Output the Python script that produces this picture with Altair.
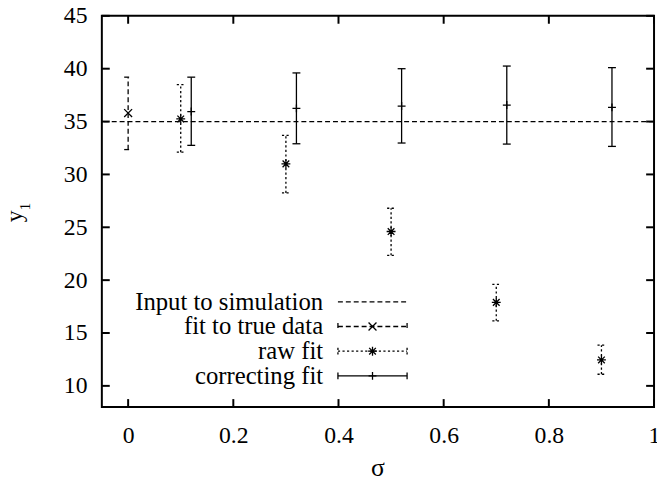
import altair as alt
import pandas as pd

# ---------------- data ----------------
sigma_true = [0.0]
true_val = [35.8]
true_lo = [32.35]
true_hi = [39.2]

sigma_raw = [0.1, 0.3, 0.5, 0.7, 0.9]
raw_val = [35.25, 31.0, 24.6, 17.9, 12.45]
raw_lo = [32.1, 28.25, 22.35, 16.15, 11.1]
raw_hi = [38.5, 33.7, 26.8, 19.6, 13.85]

sigma_corr = [0.12, 0.32, 0.52, 0.72, 0.92]
corr_val = [35.95, 36.25, 36.47, 36.56, 36.34]
corr_lo = [32.75, 32.9, 32.97, 32.87, 32.65]
corr_hi = [39.2, 39.6, 40.0, 40.25, 40.1]

input_value = [35.0]

x_ticks = [0, 0.2, 0.4, 0.6, 0.8, 1.0]
y_ticks = [10, 15, 20, 25, 30, 35, 40, 45]

legend_labels = ["Input to simulation", "fit to true data", "raw fit", "correcting fit"]

# ---------------- layout ----------------
W, H = 559, 396
FONT = "Liberation Serif, Times New Roman, serif"
LW = 1.3
DASH = [5, 3]
DOT = [2.2, 2.4]
CAP = 64

xsc = alt.Scale(domain=[-0.05, 1.0], nice=False, zero=False)
ysc = alt.Scale(domain=[8, 45], nice=False, zero=False)

xaxis = alt.Axis(values=x_ticks, ticks=False, domain=False, grid=False, title=None,
                 labelFont=FONT, labelFontSize=24, labelColor="black", labelPadding=17,
                 labelFlush=False, labelOverlap=False, format="~g")
yaxis = alt.Axis(values=y_ticks, ticks=False, domain=False, grid=False, title=None,
                 labelFont=FONT, labelFontSize=24, labelColor="black", labelPadding=15,
                 labelOverlap=False, format="~g")

df_true = pd.DataFrame({"s": sigma_true, "v": true_val, "lo": true_lo, "hi": true_hi})
df_raw = pd.DataFrame({"s": sigma_raw, "v": raw_val, "lo": raw_lo, "hi": raw_hi})
df_corr = pd.DataFrame({"s": sigma_corr, "v": corr_val, "lo": corr_lo, "hi": corr_hi})
df_in = pd.DataFrame({"v": input_value})
df_xt = pd.DataFrame({"s": x_ticks})
df_yt = pd.DataFrame({"v": y_ticks})
one = pd.DataFrame({"a": [0]})


def X(f):
    return alt.X(f, type="quantitative", scale=xsc, axis=xaxis)


def Y(f):
    return alt.Y(f, type="quantitative", scale=ysc, axis=yaxis)


SHAPE_X = "M-1,-1L1,1M-1,1L1,-1"
SHAPE_STAR = "M-1,0L1,0M0,-1L0,1M-0.75,-0.75L0.75,0.75M-0.75,0.75L0.75,-0.75"
SHAPE_PLUS = "M-1,0L1,0M0,-1L0,1"
SHAPE_H = "M-1,0L1,0"


def series(df, dash, shape, msize):
    kw = {} if dash is None else {"strokeDash": dash}
    bar = alt.Chart(df).mark_rule(color="black", strokeWidth=LW, **kw).encode(
        x=X("s"), y=Y("lo"), y2="hi")
    cap_lo = alt.Chart(df).mark_point(shape=SHAPE_H, size=CAP, filled=False, color="black",
                                      strokeWidth=LW, opacity=1, **kw).encode(x=X("s"), y=Y("lo"))
    cap_hi = alt.Chart(df).mark_point(shape=SHAPE_H, size=CAP, filled=False, color="black",
                                      strokeWidth=LW, opacity=1, **kw).encode(x=X("s"), y=Y("hi"))
    pt = alt.Chart(df).mark_point(shape=shape, size=msize, filled=False, color="black",
                                  strokeWidth=LW, opacity=1).encode(x=X("s"), y=Y("v"))
    return [bar, cap_lo, cap_hi, pt]


hline = alt.Chart(df_in).mark_rule(color="black", strokeWidth=1.2, strokeDash=DASH).encode(y=Y("v"))

# inward ticks on all four sides
tick_l = alt.Chart(df_yt).mark_rule(color="black", strokeWidth=2).encode(
    y=Y("v"), x=alt.value(0), x2=alt.value(8))
tick_r = alt.Chart(df_yt).mark_rule(color="black", strokeWidth=2).encode(
    y=Y("v"), x=alt.value(W - 8), x2=alt.value(W))
tick_b = alt.Chart(df_xt).mark_rule(color="black", strokeWidth=2).encode(
    x=X("s"), y=alt.value(H - 8), y2=alt.value(H))
tick_t = alt.Chart(df_xt).mark_rule(color="black", strokeWidth=2).encode(
    x=X("s"), y=alt.value(0), y2=alt.value(8))

# legend
LY = [289.5, 314.5, 339.5, 364.5]
LX0, LX1, LXM, LXT = 239, 309, 274, 224
df_leg = pd.DataFrame({"label": legend_labels, "ly": LY})
leg_text = alt.Chart(df_leg).mark_text(align="right", baseline="middle", font=FONT,
                                        fontSize=25, color="black").encode(
    x=alt.value(LXT), y=alt.Y("ly:Q", scale=None), text="label:N")

legend = [leg_text]
styles = [(DASH, None, 0), (DASH, SHAPE_X, 64), (DOT, SHAPE_STAR, 81), (None, SHAPE_PLUS, 64)]
for i, (dash, shape, msize) in enumerate(styles):
    kw = {} if dash is None else {"strokeDash": dash}
    ly = LY[i]
    legend.append(alt.Chart(one).mark_rule(color="black", strokeWidth=LW, **kw).encode(
        x=alt.value(LX0), x2=alt.value(LX1), y=alt.value(ly)))
    if shape is not None:
        for xe in (LX0, LX1):
            legend.append(alt.Chart(one).mark_rule(color="black", strokeWidth=LW, **kw).encode(
                x=alt.value(xe), y=alt.value(ly - 3.5), y2=alt.value(ly + 3.5)))
        legend.append(alt.Chart(one).mark_point(shape=shape, size=msize, filled=False,
                                                color="black", strokeWidth=LW, opacity=1).encode(
            x=alt.value(LXM), y=alt.value(ly)))

# axis titles
t_sigma = alt.Chart(one).mark_text(font=FONT, fontSize=26, color="black", align="center",
                                   baseline="alphabetic").encode(
    x=alt.value(W / 2), y=alt.value(466), text=alt.value("σ"))
t_y = alt.Chart(one).mark_text(font=FONT, fontSize=24, color="black", align="center",
                               baseline="alphabetic", angle=270).encode(
    x=alt.value(-81), y=alt.value(203), text=alt.value("y"))
t_1 = alt.Chart(one).mark_text(font=FONT, fontSize=15, color="black", align="center",
                               baseline="alphabetic", angle=270).encode(
    x=alt.value(-73), y=alt.value(193), text=alt.value("1"))

layers = ([hline] + series(df_true, DASH, SHAPE_X, 64) + series(df_raw, DOT, SHAPE_STAR, 81)
          + series(df_corr, None, SHAPE_PLUS, 64)
          + [tick_l, tick_r, tick_b, tick_t] + legend + [t_sigma, t_y, t_1])

chart = alt.layer(*layers).properties(
    width=W, height=H,
    autosize=alt.AutoSizeParams(type="none"),
    padding={"left": 95, "top": 5, "right": 3, "bottom": 75},
    background="white",
).configure_view(stroke="black", strokeWidth=2)

chart.save("out.html", embed_options={"renderer": "svg", "actions": False})
